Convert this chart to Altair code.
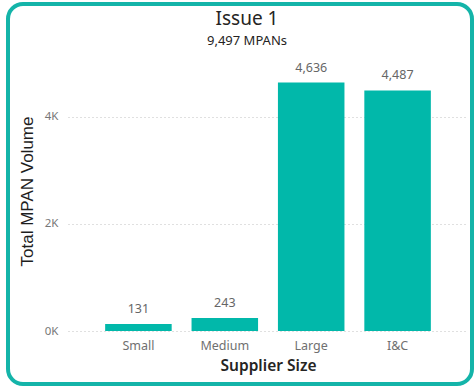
import altair as alt
import pandas as pd

# Supplier size categories and their MPAN volumes
sizes = ["Small", "Medium", "Large", "I&C"]
volumes = [131, 243, 4636, 4487]

df = pd.DataFrame({"size": sizes, "volume": volumes})
total = sum(volumes)

FONT = "Segoe UI, Noto Sans, sans-serif"
TEAL = "#01B8AA"

x = alt.X(
    "size:N",
    sort=sizes,
    title="Supplier Size",
    scale=alt.Scale(paddingInner=0.23, paddingOuter=0.43),
    axis=alt.Axis(
        domain=False, ticks=False, labelAngle=0, labelPadding=8,
        labelFont=FONT, labelFontSize=12.5, labelColor="#707070",
        titleFont=FONT, titleFontSize=15.5, titleFontWeight=600,
        titleColor="#252423", titlePadding=7,
    ),
)
y = alt.Y(
    "volume:Q",
    title="Total MPAN Volume",
    scale=alt.Scale(domain=[0, 5000], nice=False),
    axis=alt.Axis(
        values=[0, 2000, 4000], labelExpr="datum.value / 1000 + 'K'",
        domain=False, ticks=False, labelPadding=10,
        labelFont=FONT, labelFontSize=11.5, labelColor="#777777",
        grid=True, gridDash=[1, 3], gridColor="#c0c0c0", gridWidth=1,
        titleFont="Liberation Sans", titleFontSize=17, titleFontWeight="normal",
        titleColor="#1e1e1e", titleX=-36, titleY=128,
        titleAlign="center", titleBaseline="alphabetic", titleAngle=-90,
    ),
)

bars = alt.Chart(df).mark_bar(color=TEAL).encode(x=x, y=y)

labels = alt.Chart(df).mark_text(
    baseline="alphabetic", dy=-11, font=FONT, fontSize=12.5, color="#666666"
).encode(
    x=alt.X("size:N", sort=sizes),
    y="volume:Q",
    text=alt.Text("volume:Q", format=","),
)

# Rounded card border around the visual
border = alt.Chart(alt.Data(values=[{}])).mark_rect(
    fillOpacity=0, stroke="#14B4A9", strokeWidth=4, cornerRadius=15
).encode(
    x=alt.value(-60), x2=alt.value(404),
    y=alt.value(-59), y2=alt.value(321),
)

chart = alt.layer(bars, labels, border).properties(
    width=400,
    height=268,
    autosize=alt.AutoSizeParams(type="none"),
    padding={"left": 68, "top": 63, "right": 7, "bottom": 59},
    title=alt.TitleParams(
        text="Issue 1",
        subtitle=f"{total:,} MPANs",
        anchor="middle",
        font=FONT, fontSize=19, fontWeight="normal", color="#252423",
        subtitleFont=FONT, subtitleFontSize=13, subtitleColor="#252423",
        subtitlePadding=6,
        offset=-46,
        dx=-21,
    ),
).configure_view(stroke=None)

chart.save("out.html", embed_options={"renderer": "svg", "actions": False})
